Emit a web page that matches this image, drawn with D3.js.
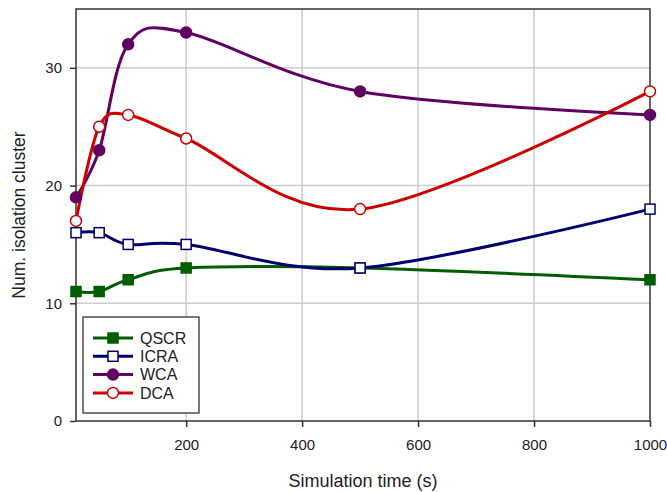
<!DOCTYPE html>
<html>
<head>
<meta charset="utf-8">
<script src="https://cdn.jsdelivr.net/npm/d3@7"></script>
<style>
  body { margin: 0; background: #fff; }
  text { font-family: "Liberation Sans", Arial, sans-serif; fill: #222; }
</style>
</head>
<body>
<svg id="chart"></svg>
<script>
const width = 667, height = 492;
const marginLeft = 76, marginRight = 17, marginTop = 9, marginBottom = 71;

// data
const times = [10, 50, 100, 200, 500, 1000];
const qscr = [11, 11, 12, 13, 13, 12];
const icra = [16, 16, 15, 15, 13, 18];
const wca = [19, 23, 32, 33, 28, 26];
const dca = [17, 25, 26, 24, 18, 28];
const xTicks = [200, 400, 600, 800, 1000];
const yTicks = [0, 10, 20, 30];

const series = [
  { name: 'QSCR', values: qscr, color: '#005c00', marker: 'square', filled: true },
  { name: 'ICRA', values: icra, color: '#00006e', marker: 'square', filled: false },
  { name: 'WCA', values: wca, color: '#620062', marker: 'circle', filled: true },
  { name: 'DCA', values: dca, color: '#cc0000', marker: 'circle', filled: false },
];

const svg = d3.select('#chart')
  .attr('width', width)
  .attr('height', height);

const x = d3.scaleLinear().domain([10, 1000]).range([marginLeft, width - marginRight]);
const y = d3.scaleLinear().domain([0, 35]).range([height - marginBottom, marginTop]);

// grid
svg.append('g').selectAll('line')
  .data(xTicks.filter(d => d < 1000))
  .join('line')
  .attr('x1', d => x(d)).attr('x2', d => x(d))
  .attr('y1', y(0)).attr('y2', y(35))
  .style('stroke', '#cccccc').style('stroke-width', 1.5);
svg.append('g').selectAll('line')
  .data(yTicks.filter(d => d > 0))
  .join('line')
  .attr('x1', x(10)).attr('x2', x(1000))
  .attr('y1', d => y(d)).attr('y2', d => y(d))
  .style('stroke', '#cccccc').style('stroke-width', 1.5);

// frame
svg.append('rect')
  .attr('x', x(10)).attr('y', y(35))
  .attr('width', x(1000) - x(10)).attr('height', y(0) - y(35))
  .style('fill', 'none').style('stroke', '#333').style('stroke-width', 1.5);

// axes
const xAxis = svg.append('g')
  .attr('transform', `translate(0,${y(0)})`)
  .call(d3.axisBottom(x).tickValues(xTicks).tickFormat(d3.format('d')).tickSize(6).tickPadding(12));
const yAxis = svg.append('g')
  .attr('transform', `translate(${x(10)},0)`)
  .call(d3.axisLeft(y).tickValues(yTicks).tickSize(6).tickPadding(8));
[xAxis, yAxis].forEach(a => {
  a.select('.domain').remove();
  a.selectAll('.tick line').style('stroke', '#333').style('stroke-width', 1.5);
  a.selectAll('.tick text').style('font-size', '15px').style('fill', '#222')
    .style('font-family', '"Liberation Sans", Arial, sans-serif');
});

svg.append('text')
  .attr('x', (x(10) + x(1000)) / 2).attr('y', 487)
  .attr('text-anchor', 'middle')
  .style('font-size', '18px')
  .text('Simulation time (s)');
svg.append('text')
  .attr('transform', `translate(25,${(y(0) + y(35)) / 2}) rotate(-90)`)
  .attr('text-anchor', 'middle')
  .style('font-size', '17.5px')
  .text('Num. isolation cluster');

const line = d3.line()
  .x(d => x(d[0]))
  .y(d => y(d[1]))
  .curve(d3.curveCardinal.tension(0));

function drawMarker(g, cx, cy, s) {
  if (s.marker === 'square') {
    g.append('rect')
      .attr('x', cx - 5).attr('y', cy - 5).attr('width', 10).attr('height', 10)
      .style('fill', s.filled ? s.color : '#fff')
      .style('stroke', s.color).style('stroke-width', 1.5);
  } else {
    g.append('circle')
      .attr('cx', cx).attr('cy', cy).attr('r', 5.5)
      .style('fill', s.filled ? s.color : '#fff')
      .style('stroke', s.color).style('stroke-width', 1.5);
  }
}

series.forEach(s => {
  const pts = times.map((t, i) => [t, s.values[i]]);
  svg.append('path')
    .datum(pts)
    .attr('d', line)
    .style('fill', 'none')
    .style('stroke', s.color)
    .style('stroke-width', 3);
});
series.forEach(s => {
  const g = svg.append('g');
  times.forEach((t, i) => drawMarker(g, x(t), y(s.values[i]), s));
});

// legend
const legend = svg.append('g');
legend.append('rect')
  .attr('x', 83).attr('y', 317).attr('width', 116).attr('height', 96)
  .style('fill', '#fff').style('stroke', '#222').style('stroke-width', 1.2);
series.forEach((s, i) => {
  const ly = 338 + i * 18.3;
  legend.append('line')
    .attr('x1', 93).attr('x2', 133).attr('y1', ly).attr('y2', ly)
    .style('stroke', s.color).style('stroke-width', 3);
  drawMarker(legend, 113, ly, s);
  legend.append('text')
    .attr('x', 140).attr('y', ly)
    .attr('dy', '0.36em')
    .style('font-size', '16px')
    .text(s.name);
});
</script>
</body>
</html>
